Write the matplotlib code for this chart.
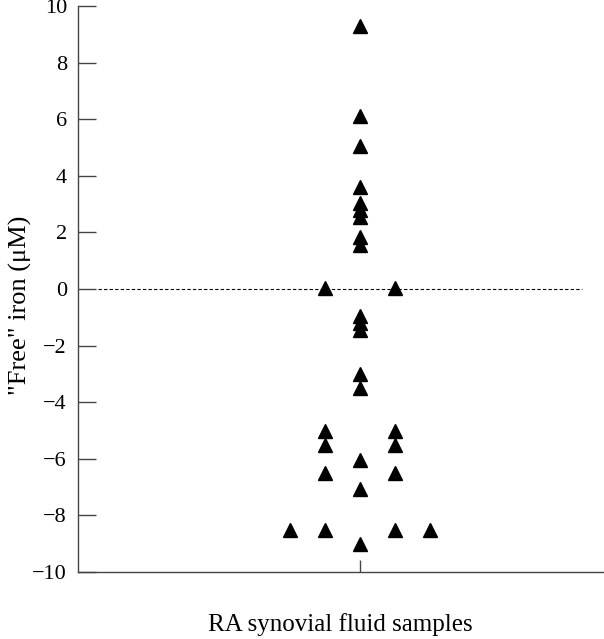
import numpy as np
import matplotlib.pyplot as plt

plt.rcParams["font.family"] = ["Liberation Serif", "DejaVu Serif"]

# valores ("free" iron, uM) por columna
col_centro = [9.3, 6.1, 5.05, 3.6, 3.05, 2.8, 2.55, 1.85, 1.55,
              -0.95, -1.2, -1.45, -3.0, -3.5, -6.05, -7.05, -9.0]
col_izq = [0.05, -5.0, -5.5, -6.5, -8.5]
col_der = [0.05, -5.0, -5.5, -6.5, -8.5]
col_izq2 = [-8.5]
col_der2 = [-8.5]

columnas = {-2: col_izq2, -1: col_izq, 0: col_centro, 1: col_der, 2: col_der2}

y_ticks = [-10, -8, -6, -4, -2, 0, 2, 4, 6, 8, 10]

fig = plt.figure(figsize=(6.04, 6.39), dpi=100)
W, H = 604, 639
ax = fig.add_axes([78 / W, (H - 572) / H, (604 - 78) / W, (572 - 6) / H])

for xpos, vals in columnas.items():
    ax.plot(np.full(len(vals), xpos), vals, linestyle="none", marker="^",
            markersize=9.5, color="black", zorder=3)

# linea punteada en cero
ax.plot([-7.5, 6.35], [0, 0], color="black", linestyle=(0, (3, 2)),
        linewidth=0.8, zorder=1)

ax.set_xlim(-282 / 35, 244 / 35)
ax.set_ylim(-10, 10)
ax.set_yticks(y_ticks)
ax.set_xticks([0])
ax.set_xticklabels([])

ax.spines["top"].set_visible(False)
ax.spines["right"].set_visible(False)
for s in ["left", "bottom"]:
    ax.spines[s].set_color("#444444")
    ax.spines[s].set_linewidth(1.0)

ax.tick_params(axis="y", direction="in", length=13, width=1.0, color="#444444",
               labelsize=16, pad=8)
ax.tick_params(axis="x", direction="in", length=9, width=1.0, color="#444444")

fig.text(20 / W, 1 - 305 / H, '"Free" iron (\u03bcM)', fontsize=19,
         rotation=90, ha="center", va="center")
fig.text(340 / W, 1 - 625 / H, "RA synovial fluid samples", fontsize=18,
         ha="center", va="center")

fig.savefig("out.png", dpi=100)
